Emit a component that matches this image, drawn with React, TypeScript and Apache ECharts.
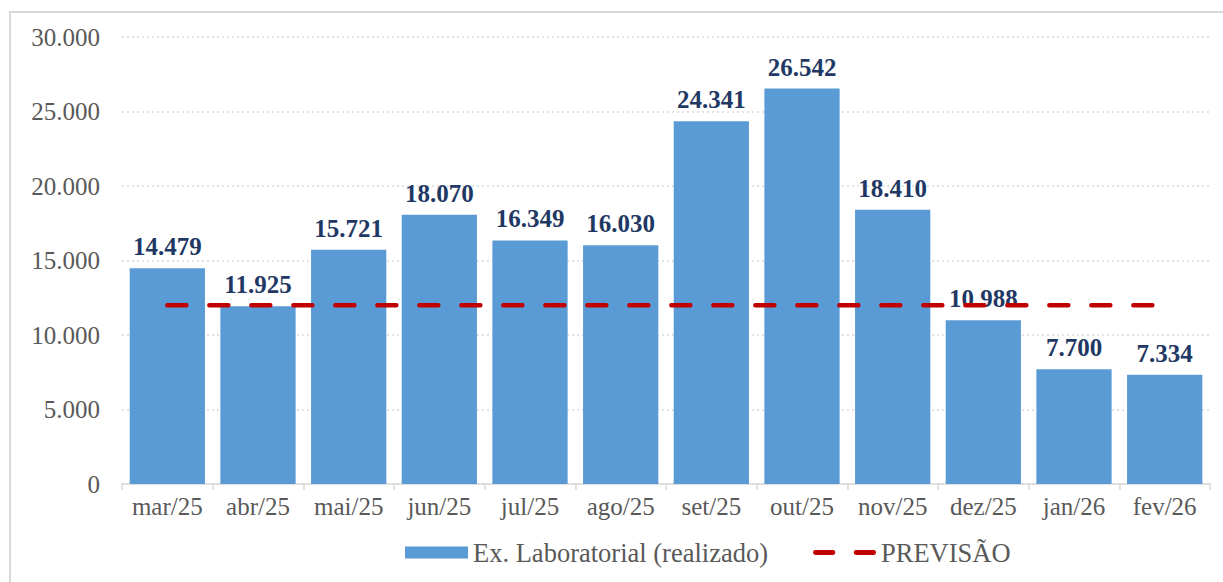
import React, { useEffect, useRef } from "react";
import * as echarts from "echarts";

const categories = ["mar/25", "abr/25", "mai/25", "jun/25", "jul/25", "ago/25", "set/25", "out/25", "nov/25", "dez/25", "jan/26", "fev/26"];
const realizado = [14479, 11925, 15721, 18070, 16349, 16030, 24341, 26542, 18410, 10988, 7700, 7334];
const previsao = [12000, 12000, 12000, 12000, 12000, 12000, 12000, 12000, 12000, 12000, 12000, 12000];
const seriesNames = ["Ex. Laboratorial (realizado)", "PREVISÃO"];

const fmt = (v: number) => String(Math.round(v)).replace(/\B(?=(\d{3})+(?!\d))/g, ".");

const FONT = "'Liberation Serif', 'Times New Roman', serif";
const DASH_ICON =
  "path://M2.5,0 H20.5 A2.5,2.5 0 0 1 20.5,5 H2.5 A2.5,2.5 0 0 1 2.5,0 Z M44.5,0 H62.5 A2.5,2.5 0 0 1 62.5,5 H44.5 A2.5,2.5 0 0 1 44.5,0 Z";

export default function App() {
  const ref = useRef<HTMLDivElement>(null);
  useEffect(() => {
    if (!ref.current) return;
    const chart = echarts.init(ref.current, undefined, { renderer: "svg" });
    chart.setOption({
      animation: false,
      backgroundColor: "#ffffff",
      textStyle: { fontFamily: FONT },
      graphic: [
        {
          type: "rect",
          shape: { x: 10, y: 12, width: 1300, height: 700 },
          style: { fill: "none", stroke: "#D9D9D9", lineWidth: 2 },
          silent: true,
        },
      ],
      grid: { left: 122, right: 13, top: 37, bottom: 98, containLabel: false },
      legend: {
        left: 400,
        top: 534,
        itemWidth: 63,
        itemHeight: 12,
        itemGap: 45,
        symbolKeepAspect: true,
        textStyle: { fontFamily: FONT, fontSize: 26.5, color: "#595959" },
        data: [
          { name: seriesNames[0], icon: "rect" },
          { name: seriesNames[1], icon: DASH_ICON, itemStyle: { color: "#C00000" } },
        ],
      },
      xAxis: {
        type: "category",
        data: categories,
        boundaryGap: true,
        axisLine: { lineStyle: { color: "#D9D9D9", width: 1.5 } },
        axisTick: { show: true, interval: 0, length: 6, lineStyle: { color: "#D9D9D9", width: 1.5 } },
        axisLabel: { interval: 0, fontFamily: FONT, fontSize: 25, color: "#595959", margin: 10 },
      },
      yAxis: {
        type: "value",
        min: 0,
        max: 30000,
        interval: 5000,
        axisLine: { show: false },
        axisTick: { show: false },
        splitLine: { lineStyle: { color: "#D9D9D9", type: [2, 3], width: 1.5 } },
        axisLabel: { fontFamily: FONT, fontSize: 25, color: "#595959", margin: 22, formatter: (v: number) => fmt(v) },
      },
      series: [
        {
          name: seriesNames[0],
          type: "bar",
          data: realizado,
          barCategoryGap: "17%",
          itemStyle: { color: "#5B9BD5" },
          label: {
            show: true,
            position: "top",
            distance: 9,
            fontFamily: FONT,
            fontSize: 25,
            fontWeight: "bold",
            color: "#1F3864",
            formatter: (p: any) => fmt(p.value),
          },
          z: 2,
        },
        {
          name: seriesNames[1],
          type: "line",
          data: previsao,
          symbol: "none",
          showSymbol: false,
          lineStyle: { color: "#C00000", width: 4.5, type: [19, 23], cap: "round" },
          itemStyle: { color: "#C00000" },
          z: 3,
        },
      ],
    });
    return () => chart.dispose();
  }, []);
  return <div ref={ref} style={{ position: "absolute", left: 0, top: 0, width: 1223, height: 582 }} />;
}
